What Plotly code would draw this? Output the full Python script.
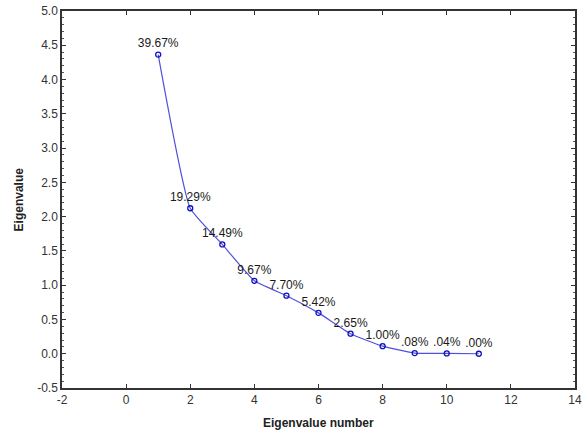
import plotly.graph_objects as go

eig_num = [1, 2, 3, 4, 5, 6, 7, 8, 9, 10, 11]
eig_val = [4.364, 2.122, 1.594, 1.064, 0.847, 0.596, 0.292, 0.110, 0.009, 0.004, 0.0]
pct_labels = ["39.67%", "19.29%", "14.49%", "9.67%", "7.70%", "5.42%", "2.65%", "1.00%", ".08%", ".04%", ".00%"]

x_ticks = [-2, 0, 2, 4, 6, 8, 10, 12, 14]
y_ticks = [-0.5, 0.0, 0.5, 1.0, 1.5, 2.0, 2.5, 3.0, 3.5, 4.0, 4.5, 5.0]

font = "Liberation Sans, Arial, sans-serif"

fig = go.Figure()
fig.add_trace(go.Scatter(
    x=eig_num, y=eig_val, text=pct_labels,
    mode="lines+markers+text",
    textposition="top center",
    textfont=dict(family=font, size=12, color="#1a1a1a"),
    line=dict(color="#5050dc", width=1.2, shape="spline", smoothing=0.4),
    marker=dict(symbol="circle-open", size=5, color="#1010c0", line=dict(width=1.3, color="#1010c0")),
    cliponaxis=False,
    showlegend=False,
))

axis_common = dict(
    showgrid=False, zeroline=False,
    showline=True, linecolor="#333333", linewidth=1.5, mirror="ticks",
    ticks="inside", ticklen=4, tickcolor="#333333", tickwidth=1,
    tickfont=dict(family=font, size=12, color="#333333"),
)

fig.update_xaxes(range=[-2, 14], tickvals=x_ticks, ticktext=[str(v) for v in x_ticks], **axis_common)
fig.update_yaxes(range=[-0.5, 5.0], tickvals=y_ticks, ticktext=[f"{v:.1f}" for v in y_ticks],
                 minor=dict(ticks="inside", ticklen=2, dtick=0.1, tickcolor="#555555", showgrid=False),
                 **axis_common)

fig.update_layout(
    width=584, height=434,
    margin=dict(l=62, r=9, t=11, b=46, autoexpand=False),
    paper_bgcolor="white", plot_bgcolor="white",
    font=dict(family=font),
    annotations=[
        dict(text="<b>Eigenvalue number</b>", x=0.5, y=-0.093, xref="paper", yref="paper",
             showarrow=False, font=dict(family=font, size=12, color="#222222"), yanchor="middle"),
        dict(text="<b>Eigenvalue</b>", x=-0.084, y=0.5, xref="paper", yref="paper", textangle=-90,
             showarrow=False, font=dict(family=font, size=12, color="#222222"), xanchor="center"),
    ],
)

fig.write_html("out.html")
